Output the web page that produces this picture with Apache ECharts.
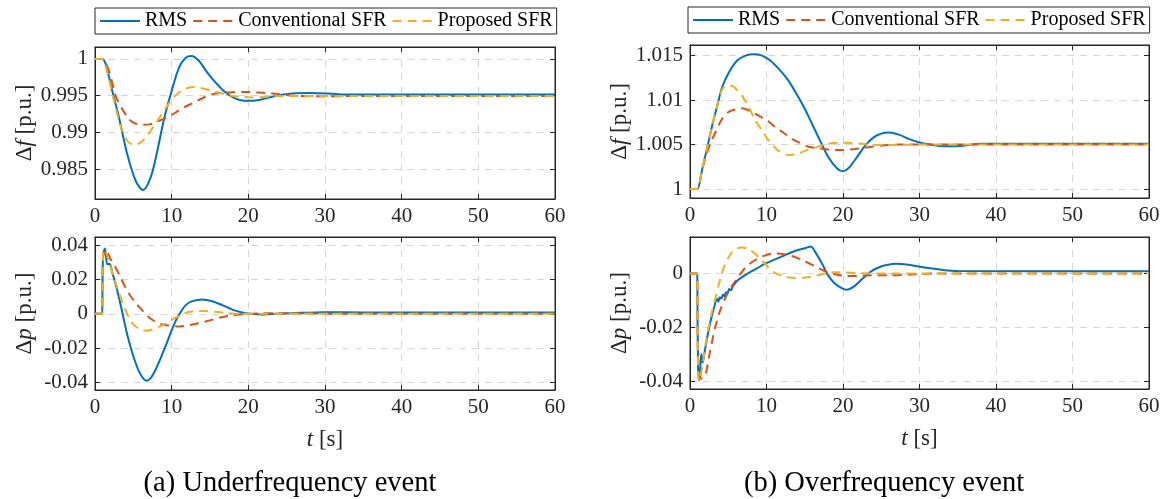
<!DOCTYPE html>
<html><head><meta charset="utf-8">
<script src="https://cdn.jsdelivr.net/npm/echarts@6/dist/echarts.min.js"></script>
<style>html,body{margin:0;padding:0;background:#fff}#c{width:1168px;height:499px}</style>
</head><body><div id="c"></div><script>
// ---------- data (time in s, value in p.u.) ----------
const seriesNames = ['RMS', 'Conventional SFR', 'Proposed SFR'];
const xTicks = [0, 10, 20, 30, 40, 50, 60];

// (a) Underfrequency event - frequency
const ufFreqRMS = [[0,1],[0.9,1],[1,1],[1.5,0.9990],[2.04,0.99655],[3.13,0.99202],[4.2,0.98704],[5.3,0.98341],[6.26,0.98214],[7.26,0.98386],[8.13,0.98749],[9.0,0.99179],[10,0.99565],[10.96,0.99882],[11.83,1.00018],[12.6,1.00041],[13.57,0.99973],[14.65,0.99814],[15.74,0.99678],[16.8,0.99565],[17.9,0.99483],[19.0,0.99438],[20.1,0.99429],[21.4,0.99442],[22.7,0.99474],[24,0.99506],[25.7,0.99529],[28,0.99535],[31,0.99525],[33,0.99515],[60,0.99515]];
const ufFreqConv = [[0,1],[0.9,1],[1,1],[1.83,0.99837],[2.7,0.99497],[3.57,0.99316],[4.43,0.99179],[5.3,0.9912],[6.17,0.99102],[7.26,0.99112],[8.13,0.99148],[9.2,0.99193],[10.3,0.99257],[11.4,0.99329],[12.7,0.99397],[14,0.99465],[15.3,0.99519],[16.6,0.99538],[17.9,0.99547],[19.65,0.99551],[21.4,0.99542],[23.1,0.99529],[24.9,0.9951],[26.4,0.99497],[30,0.9949],[35,0.99497],[60,0.99497]];
const ufFreqProp = [[0,1],[0.9,1],[1,1],[1.6,0.99814],[2.48,0.99429],[3.35,0.99089],[4.2,0.98885],[5.1,0.9883],[5.96,0.98862],[6.8,0.98953],[7.7,0.99089],[8.57,0.99225],[9.43,0.99361],[10.3,0.99483],[11.4,0.99574],[12.7,0.99619],[14,0.99601],[15.3,0.99565],[16.6,0.99529],[17.9,0.99497],[19.2,0.99483],[20.5,0.99474],[22.3,0.99483],[24,0.99497],[60,0.99497]];

// (a) Underfrequency event - power
const ufPowRMS = [[0,0],[0.95,0],[1,0],[1.05,0.034],[1.3,0.0382],[1.6,0.0289],[1.9,0.0293],[2.26,0.024],[2.7,0.0172],[3.13,0.0094],[3.57,0.0006],[4,-0.0082],[4.43,-0.016],[4.87,-0.0228],[5.3,-0.0287],[5.74,-0.0336],[6.26,-0.0375],[6.7,-0.039],[7.26,-0.0375],[7.9,-0.0326],[8.57,-0.0258],[9.2,-0.0189],[9.87,-0.0111],[10.5,-0.0043],[11.2,0.0012],[11.83,0.0051],[12.7,0.0074],[14,0.0084],[15.3,0.0074],[16.6,0.0051],[17.9,0.0025],[19.2,0.0008],[20.3,0],[21.8,-0.0004],[23.6,0],[25.7,0.0004],[30,0.001],[35,0.0008],[60,0.0008]];
const ufPowConv = [[0,0],[0.95,0],[1,0],[1.05,0.033],[1.4,0.0371],[2.04,0.0318],[2.7,0.0269],[3.35,0.0211],[4,0.0152],[4.65,0.0103],[5.3,0.0064],[6.17,0.002],[7.04,-0.002],[7.9,-0.0047],[8.8,-0.0062],[9.65,-0.0068],[11,-0.0074],[12.3,-0.0066],[13.6,-0.0053],[14.9,-0.0039],[16.2,-0.0023],[17.5,-0.0012],[18.8,-0.0004],[20.5,0],[21.8,0.0004],[23.6,0.0004],[30,0.0001],[35,0],[60,0]];
const ufPowProp = [[0,0],[0.95,0],[1,0],[1.05,0.035],[1.25,0.0377],[1.83,0.0299],[2.48,0.0211],[3.13,0.0123],[3.78,0.0045],[4.43,-0.0023],[5.1,-0.0066],[5.96,-0.0092],[6.8,-0.0098],[7.7,-0.0088],[8.57,-0.0072],[9.43,-0.0051],[10.3,-0.0027],[11.2,-0.0008],[12,0.0008],[13.1,0.0016],[14.4,0.0016],[15.7,0.0012],[17,0.0006],[18.8,0],[60,0]];

// (b) Overfrequency event - frequency
const ofFreqRMS = [[0,1],[0.9,1],[1,1],[1.6,1.00225],[2.26,1.00469],[2.9,1.00713],[3.57,1.00938],[4.2,1.01144],[5.1,1.01313],[6.17,1.01444],[7.26,1.015],[8.35,1.01515],[9.43,1.015],[10.5,1.01444],[11.6,1.0135],[12.7,1.01238],[13.8,1.01088],[14.9,1.00919],[15.96,1.00731],[17,1.00544],[18.1,1.00356],[19.2,1.00233],[19.96,1.00199],[20.7,1.00233],[21.8,1.00356],[22.9,1.00488],[24,1.00581],[25.1,1.00626],[25.96,1.00634],[27.3,1.00611],[28.6,1.00563],[29.9,1.00525],[31,1.00506],[33.5,1.0048],[36,1.0049],[38,1.0051],[60,1.0051]];
const ofFreqConv = [[0,1],[0.9,1],[1,1],[1.6,1.0022],[2.2,1.0040],[2.8,1.0054],[3.4,1.0065],[4.2,1.0079],[5.1,1.0087],[6.2,1.0090],[6.8,1.00908],[7.9,1.00874],[9,1.00825],[10.1,1.00769],[11.2,1.00694],[12.26,1.0063],[13.35,1.00563],[14.4,1.00518],[15.5,1.00476],[16.8,1.00458],[18.1,1.00443],[19.9,1.00439],[21.6,1.0045],[23.3,1.0047],[25.1,1.00488],[27.3,1.005],[60,1.005]];
const ofFreqProp = [[0,1],[0.9,1],[1,1],[1.6,1.00225],[2.26,1.00469],[2.9,1.00713],[3.57,1.00938],[4.2,1.0112],[5.1,1.01166],[5.7,1.0115],[6.3,1.0110],[6.8,1.0105],[7.7,1.00919],[8.57,1.00769],[9.43,1.00656],[10.3,1.00544],[11.2,1.00458],[12,1.00405],[12.9,1.00383],[14,1.00394],[15.1,1.00431],[16.4,1.00465],[17.7,1.00503],[19.4,1.00521],[21.2,1.00518],[22.9,1.00506],[24.7,1.00495],[26.8,1.00495],[30,1.005],[60,1.005]];

// (b) Overfrequency event - power
const ofPowRMS = [[0,0],[0.95,0],[1,0],[1.05,-0.034],[1.2,-0.0396],[1.3,-0.0372],[1.48,-0.0298],[1.65,-0.033],[1.83,-0.0304],[2.26,-0.0236],[2.7,-0.0175],[3.13,-0.0128],[3.4,-0.010],[3.57,-0.0095],[3.7,-0.0105],[3.9,-0.0088],[4.1,-0.0094],[4.3,-0.0078],[4.5,-0.0085],[4.7,-0.007],[4.9,-0.0074],[5.1,-0.0058],[5.35,-0.0062],[5.6,-0.0048],[6.17,-0.0027],[7.26,-0.0005],[8.57,0.0016],[9.87,0.0037],[11.2,0.0053],[12.5,0.0069],[13.8,0.0084],[15.1,0.0094],[15.8,0.01],[16.4,0.0078],[17.3,0.0034],[18.1,-0.0009],[19,-0.0039],[19.9,-0.0055],[20.5,-0.006],[21.4,-0.0049],[22.5,-0.0021],[23.6,0.0006],[24.65,0.0022],[25.7,0.0031],[27,0.0036],[28.6,0.0032],[29.9,0.0026],[31.2,0.002],[33,0.0013],[35,0.0009],[60,0.0008]];
const ofPowConv = [[0,0],[0.95,0],[1,0],[1.05,-0.03],[1.5,-0.039],[2.04,-0.0372],[2.48,-0.031],[2.9,-0.0249],[3.35,-0.0193],[4,-0.0132],[4.65,-0.0089],[5.5,-0.0046],[6.4,-0.0009],[7.26,0.0022],[8.35,0.0047],[9.65,0.0065],[11,0.0074],[12.3,0.0071],[13.6,0.0062],[14.9,0.0047],[16.2,0.0028],[17.5,0.001],[18.8,-0.0002],[20.3,-0.0009],[22,-0.0009],[23.8,-0.0007],[26,-0.0007],[29,-0.0004],[32,0],[60,0]];
const ofPowProp = [[0,0],[0.95,0],[1,0],[1.05,-0.034],[1.2,-0.0398],[1.6,-0.0347],[2.04,-0.0261],[2.48,-0.0193],[2.9,-0.0138],[3.35,-0.0089],[3.78,-0.0039],[4.2,0.0004],[4.65,0.0037],[5.3,0.0071],[5.96,0.009],[6.8,0.0096],[7.7,0.009],[8.57,0.0071],[9.43,0.0047],[10.3,0.0022],[11.2,0],[12.5,-0.0012],[13.8,-0.0017],[15.1,-0.0015],[16.4,-0.0009],[17.7,0],[19,0.0004],[20.3,0.0004],[22,0.0001],[25,0],[60,0]];

// axis ranges [min, max, tick step]
const yRanges = [
  [0.98092, 1.00163, 0.005],
  [-0.04444, 0.04485, 0.02],
  [0.99899, 1.01619, 0.005],
  [-0.0428, 0.0135, 0.02]
];
const captions = ['(a) Underfrequency event', '(b) Overfrequency event'];

// ---------- styling ----------
const FONT = "'Liberation Serif', 'DejaVu Serif', serif";
const AX = '#262626';
const COLORS = ['#0072BD', '#D95319', '#EDB120'];
const grids = [
  {left: 95, top: 47, width: 460, height: 152},
  {left: 95, top: 237, width: 460, height: 153},
  {left: 690, top: 45, width: 459, height: 153},
  {left: 690, top: 237, width: 459, height: 152}
].map(g => Object.assign({show: true, borderColor: AX, borderWidth: 1, backgroundColor: '#fff', outerBoundsMode: 'none', containLabel: false}, g));

const richName = {
  i: {fontStyle: 'italic', fontFamily: FONT, fontSize: 23, color: AX},
  n: {fontFamily: FONT, fontSize: 23, color: AX}
};
const xAxes = [], yAxes = [];
grids.forEach((g, i) => {
  const bottomRow = (i === 1 || i === 3);
  xAxes.push({
    gridIndex: i, type: 'value', position: 'bottom', min: xTicks[0], max: xTicks[xTicks.length - 1], interval: xTicks[1] - xTicks[0],
    axisLine: {show: true, onZero: false, lineStyle: {color: AX, width: 1}},
    axisTick: {show: true, inside: true, length: 5, lineStyle: {color: AX}},
    axisLabel: {show: true, color: AX, fontFamily: FONT, fontSize: 21, margin: 7},
    splitLine: {show: true, lineStyle: {color: '#d6d6d6', type: [7, 6], width: 1}},
    name: bottomRow ? '{i|t}{n| [s]}' : '', nameLocation: 'middle', nameGap: 38,
    nameTextStyle: {color: AX, fontFamily: FONT, fontSize: 23, rich: richName}
  });
  xAxes.push({
    gridIndex: i, type: 'value', position: 'top', min: xTicks[0], max: xTicks[xTicks.length - 1], interval: xTicks[1] - xTicks[0],
    axisLine: {show: true, onZero: false, lineStyle: {color: AX, width: 1}},
    axisTick: {show: true, inside: true, length: 5, lineStyle: {color: AX}},
    axisLabel: {show: false}, splitLine: {show: false}
  });
  const r = yRanges[i];
  const yName = (i % 2 === 0) ? '{n|Δ}{i|f}{n| [p.u.]}' : '{n|Δ}{i|p}{n| [p.u.]}';
  yAxes.push({
    gridIndex: i, type: 'value', position: 'left', min: r[0], max: r[1], minInterval: r[2], maxInterval: r[2], splitNumber: 4,
    axisLine: {show: true, onZero: false, lineStyle: {color: AX, width: 1}},
    axisTick: {show: true, inside: true, length: 5, lineStyle: {color: AX}},
    axisLabel: {show: true, color: AX, fontFamily: FONT, fontSize: 21, margin: 7, showMinLabel: false, showMaxLabel: false},
    splitLine: {show: true, lineStyle: {color: '#d6d6d6', type: [7, 6], width: 1}},
    name: yName, nameLocation: 'middle', nameRotate: 90, nameGap: 59,
    nameTextStyle: {color: AX, fontFamily: FONT, fontSize: 23, rich: richName}
  });
  yAxes.push({
    gridIndex: i, type: 'value', position: 'right', min: r[0], max: r[1], minInterval: r[2], maxInterval: r[2], splitNumber: 4,
    axisLine: {show: true, onZero: false, lineStyle: {color: AX, width: 1}},
    axisTick: {show: true, inside: true, length: 5, lineStyle: {color: AX}},
    axisLabel: {show: false}, splitLine: {show: false}
  });
});

const panelData = [
  [ufFreqRMS, ufFreqConv, ufFreqProp],
  [ufPowRMS, ufPowConv, ufPowProp],
  [ofFreqRMS, ofFreqConv, ofFreqProp],
  [ofPowRMS, ofPowConv, ofPowProp]
];
const series = [];
panelData.forEach((sets, i) => {
  sets.forEach((d, k) => {
    series.push({
      type: 'line', name: seriesNames[k], data: d,
      xAxisIndex: 2 * i, yAxisIndex: 2 * i,
      showSymbol: false, symbol: 'none', smooth: 0.3,
      clip: true, animation: false, z: 3 + k,
      lineStyle: {color: COLORS[k], width: 2, type: k === 0 ? 'solid' : [9, 6]},
      itemStyle: {color: COLORS[k]}
    });
  });
});

const legendBase = {
  data: seriesNames, orient: 'horizontal', itemWidth: 40, itemHeight: 14, itemGap: 5,
  padding: [3, 4, 3, 4], borderColor: AX, borderWidth: 1, backgroundColor: '#fff', borderRadius: 0,
  itemStyle: {opacity: 0, borderWidth: 0},
  selectedMode: false, textStyle: {color: '#000', fontFamily: FONT, fontSize: 20}
};

const chart = echarts.init(document.getElementById('c'), null, {renderer: 'canvas'});
chart.setOption({
  animation: false,
  backgroundColor: '#fff',
  grid: grids,
  xAxis: xAxes,
  yAxis: yAxes,
  legend: [Object.assign({left: 95, top: 8}, legendBase), Object.assign({left: 688, top: 7}, legendBase)],
  graphic: captions.map((t, j) => ({
    type: 'text', x: j === 0 ? 290 : 884, y: 484,
    style: {text: t, font: '28.5px ' + FONT, fill: '#000', align: 'center', verticalAlign: 'middle', textAlign: 'center', textVerticalAlign: 'middle'}
  })),
  series: series
});
</script></body></html>
